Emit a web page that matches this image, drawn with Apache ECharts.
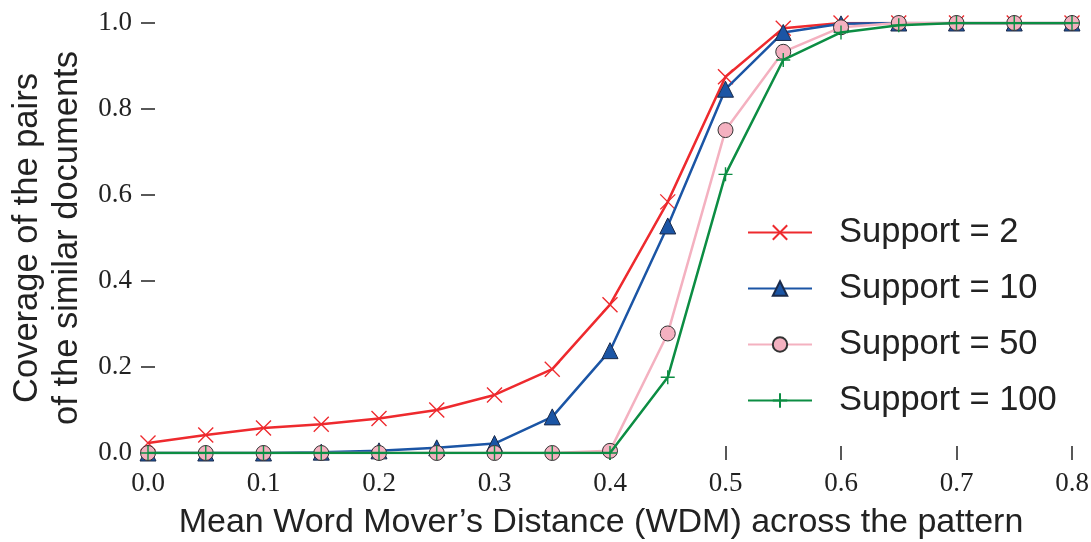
<!DOCTYPE html>
<html>
<head>
<meta charset="utf-8">
<script src="https://cdn.jsdelivr.net/npm/echarts@6/dist/echarts.min.js"></script>
<style>html,body{margin:0;padding:0;background:#fff;}#c{width:1091px;height:542px;}</style>
</head>
<body>
<div id="c"></div>
<script>
var xs = [0.0, 0.05, 0.1, 0.15, 0.2, 0.25, 0.3, 0.35, 0.4, 0.45, 0.5, 0.55, 0.6, 0.65, 0.7, 0.75, 0.8];
var support2   = [0.023, 0.042, 0.058, 0.067, 0.080, 0.100, 0.135, 0.195, 0.345, 0.584, 0.875, 0.988, 1.0, 1.0, 1.0, 1.0, 1.0];
var support10  = [0.0, 0.0, 0.0, 0.002, 0.005, 0.012, 0.022, 0.084, 0.238, 0.528, 0.846, 0.978, 0.998, 1.0, 1.0, 1.0, 1.0];
var support50  = [0.0, 0.0, 0.0, 0.0, 0.0, 0.0, 0.0, 0.0, 0.005, 0.278, 0.751, 0.933, 0.99, 1.0, 1.0, 1.0, 1.0];
var support100 = [0.0, 0.0, 0.0, 0.0, 0.0, 0.0, 0.0, 0.0, 0.0, 0.176, 0.648, 0.914, 0.978, 0.995, 1.0, 1.0, 1.0];
var seriesNames = ['Support = 2', 'Support = 10', 'Support = 50', 'Support = 100'];
var xTicks = [0.0, 0.1, 0.2, 0.3, 0.4, 0.5, 0.6, 0.7, 0.8];
var yTicks = [0.0, 0.2, 0.4, 0.6, 0.8, 1.0];

function pairs(vals) { return xs.map(function (x, i) { return [x, vals[i]]; }); }

var serif = '"Liberation Serif", "DejaVu Serif", serif';
var sans = '"Liberation Sans", Arial, sans-serif';
var tickStyle = { show: true, inside: false, length: 7, lineStyle: { color: '#222', width: 1.5 } };

var chart = echarts.init(document.getElementById('c'), null, { renderer: 'canvas' });
chart.setOption({
  animation: false,
  backgroundColor: '#ffffff',
  grid: { left: 148, right: 19, top: 23, bottom: 89, containLabel: false, outerBoundsMode: 'none' },
  legend: {
    orient: 'vertical',
    left: 742,
    top: 210,
    itemWidth: 64,
    itemHeight: 18,
    itemGap: 21,
    textStyle: { fontFamily: sans, fontSize: 34.5, color: '#222', padding: [0, 0, 0, 22] },
    data: seriesNames
  },
  xAxis: [{
    type: 'value', min: 0, max: 0.8, interval: 0.1, position: 'bottom',
    axisLine: { show: false }, splitLine: { show: false },
    axisTick: tickStyle,
    axisLabel: { fontFamily: serif, fontSize: 27, color: '#222', margin: 17,
      formatter: function (v) { return v.toFixed(1); } },
    name: 'Mean Word Mover\u2019s Distance (WDM) across the pattern',
    nameLocation: 'middle', nameGap: 53,
    nameTextStyle: { fontFamily: sans, fontSize: 34, color: '#222', padding: [0, 18, 0, 0] }
  }, {
    type: 'value', min: 0, max: 0.8, interval: 0.1, position: 'top',
    axisLine: { show: false }, splitLine: { show: false },
    axisTick: tickStyle, axisLabel: { show: false }
  }],
  yAxis: [{
    type: 'value', min: 0, max: 1.0, interval: 0.2, position: 'left',
    axisLine: { show: false }, splitLine: { show: false },
    axisTick: tickStyle,
    axisLabel: { fontFamily: serif, fontSize: 27, color: '#222', margin: 16,
      formatter: function (v) { return v.toFixed(1); } },
    name: 'Coverage of the pairs\nof the similar documents',
    nameLocation: 'middle', nameGap: 57,
    nameTextStyle: { fontFamily: sans, fontSize: 34.5, color: '#222', lineHeight: 40 }
  }, {
    type: 'value', min: 0, max: 1.0, interval: 0.2, position: 'right',
    axisLine: { show: false }, splitLine: { show: false },
    axisTick: tickStyle, axisLabel: { show: false }
  }],
  series: [{
    name: seriesNames[0], type: 'line', data: pairs(support2),
    symbol: 'path://M0,0L10,10M10,0L0,10', symbolSize: 15,
    itemStyle: { color: 'rgba(0,0,0,0)', borderColor: '#ee2a2e', borderWidth: 1.4 },
    lineStyle: { color: '#ee2a2e', width: 2.5 }, z: 2
  }, {
    name: seriesNames[1], type: 'line', data: pairs(support10),
    symbol: 'triangle', symbolSize: 16,
    itemStyle: { color: '#1b55a5', borderColor: '#1a2a4a', borderWidth: 1 },
    lineStyle: { color: '#1b55a5', width: 2.5 }, z: 3
  }, {
    name: seriesNames[2], type: 'line', data: pairs(support50),
    symbol: 'circle', symbolSize: 15,
    itemStyle: { color: '#f4b1c0', borderColor: '#333', borderWidth: 1 },
    lineStyle: { color: '#f4b1c0', width: 2.5 }, z: 4
  }, {
    name: seriesNames[3], type: 'line', data: pairs(support100),
    symbol: 'path://M5,0L5,10M0,5L10,5', symbolSize: 14,
    itemStyle: { color: 'rgba(0,0,0,0)', borderColor: '#0c8d43', borderWidth: 1.4 },
    lineStyle: { color: '#0c8d43', width: 2.5 }, z: 5
  }]
});
</script>
</body>
</html>
